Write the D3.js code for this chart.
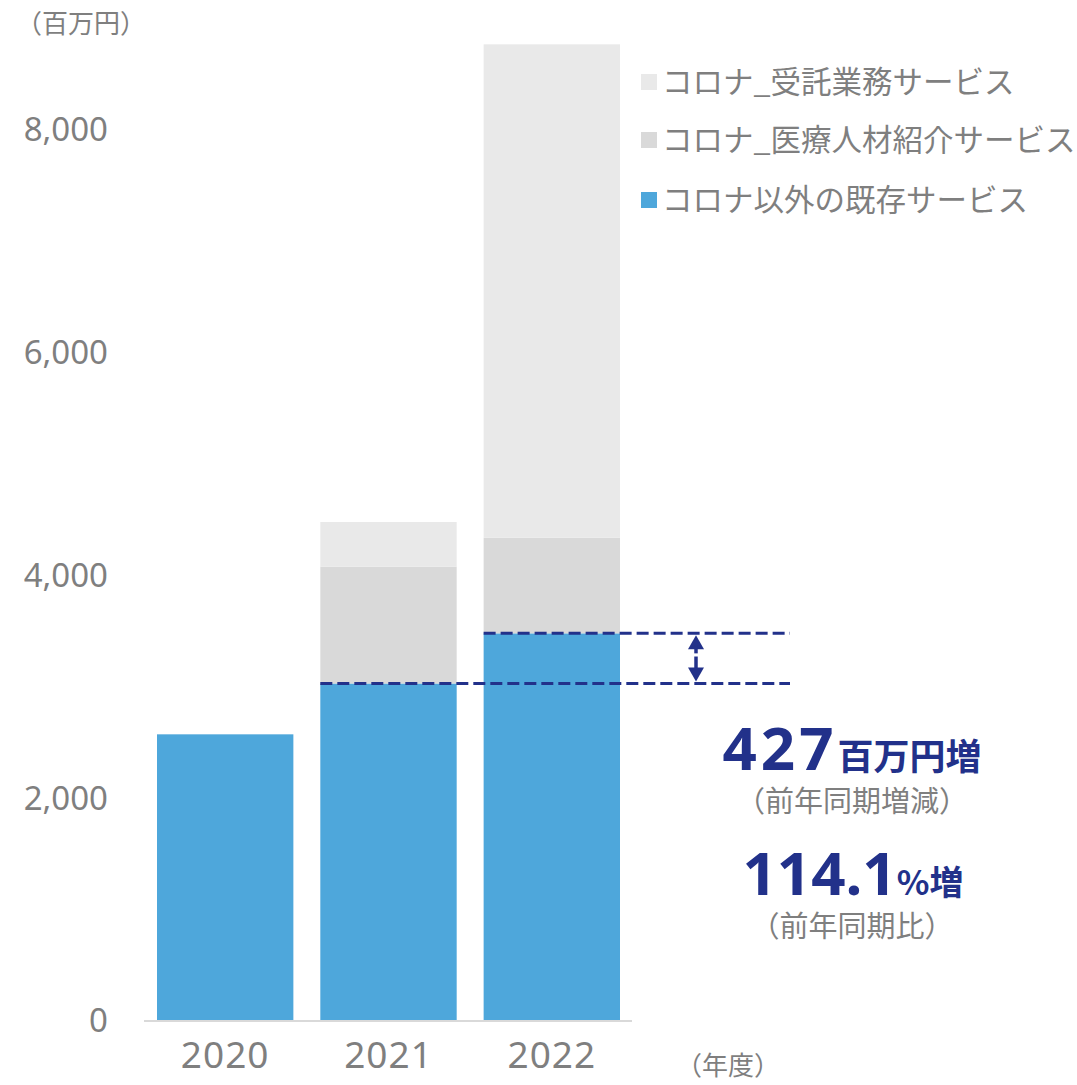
<!DOCTYPE html>
<html lang="ja">
<head>
<meta charset="UTF-8"/>
<title>売上推移</title>
<script src="https://cdn.jsdelivr.net/npm/d3@7"></script>
<style>
body { margin: 0; background: #fff; }
text { font-family: "Noto Sans CJK JP", "Noto Sans", sans-serif; }
.tick-label { fill: #7f7f7f; }
</style>
</head>
<body>
<svg id="chart"></svg>
<script>
var width = 1077, height = 1085;

// data
var years = ["2020", "2021", "2022"];
var existing = [2568, 3024, 3474];     // コロナ以外の既存サービス
var medical = [0, 1048, 858];          // コロナ_医療人材紹介サービス
var commission = [0, 401, 4428];       // コロナ_受託業務サービス
var yTicks = [0, 2000, 4000, 6000, 8000];
var legendLabels = ["コロナ_受託業務サービス", "コロナ_医療人材紹介サービス", "コロナ以外の既存サービス"];
var legendColors = ["#e9e9e9", "#d9d9d9", "#4ea7db"];

var svg = d3.select("#chart")
	.attr("width", width)
	.attr("height", height);

var x = d3.scaleBand()
	.domain(years)
	.range([157, 620])
	.paddingInner(0.165)
	.paddingOuter(0);

var y = d3.scaleLinear()
	.domain([0, 8000])
	.range([1020.5, 129]);

// stack the three series
var rows = years.map(function(yr, i) {
	return {year: yr, existing: existing[i], medical: medical[i], commission: commission[i]};
});
var keys = ["existing", "medical", "commission"];
var colors = {existing: "#4ea7db", medical: "#d9d9d9", commission: "#e9e9e9"};
var stacked = d3.stack().keys(keys)(rows);

svg.append("g")
	.selectAll("g")
	.data(stacked)
	.enter().append("g")
	.attr("fill", function(d) { return colors[d.key]; })
	.selectAll("rect")
	.data(function(d) { return d; })
	.enter().append("rect")
	.attr("x", function(d) { return x(d.data.year); })
	.attr("width", x.bandwidth())
	.attr("y", function(d) { return y(d[1]); })
	.attr("height", function(d) { return y(d[0]) - y(d[1]); });

// baseline
svg.append("line")
	.attr("x1", 144).attr("x2", 632)
	.attr("y1", y(0) + 0.5).attr("y2", y(0) + 0.5)
	.attr("stroke", "#d9d9d9")
	.attr("stroke-width", 2);

// y axis labels
svg.append("g")
	.selectAll("text")
	.data(yTicks)
	.enter().append("text")
	.attr("class", "tick-label")
	.attr("x", 108)
	.attr("y", function(d) { return y(d); })
	.attr("dy", "0.36em")
	.attr("text-anchor", "end")
	.style("font-family", "'Noto Sans', sans-serif")
	.style("font-size", "33px")
	.text(d3.format(","));

// x axis labels
svg.append("g")
	.selectAll("text")
	.data(years)
	.enter().append("text")
	.attr("class", "tick-label")
	.attr("x", function(d) { return x(d) + x.bandwidth() / 2; })
	.attr("y", 1055)
	.attr("dy", "0.36em")
	.attr("text-anchor", "middle")
	.style("font-family", "'Noto Sans', sans-serif")
	.style("font-size", "37px")
	.style("letter-spacing", "1px")
	.text(function(d) { return d; });

svg.append("text")
	.attr("class", "tick-label")
	.attr("x", 16).attr("y", 24).attr("dy", "0.36em")
	.style("font-size", "26px")
	.text("（百万円）");

svg.append("text")
	.attr("class", "tick-label")
	.attr("x", 676).attr("y", 1066).attr("dy", "0.36em")
	.style("font-size", "26px")
	.text("（年度）");

// legend
var legend = svg.append("g")
	.selectAll("g")
	.data(legendLabels)
	.enter().append("g")
	.attr("transform", function(d, i) { return "translate(641," + [82, 140, 200][i] + ")"; });
legend.append("rect")
	.attr("x", 0).attr("y", -8)
	.attr("width", 16).attr("height", 16)
	.attr("fill", function(d, i) { return legendColors[i]; });
legend.append("text")
	.attr("x", 21).attr("dy", "0.36em")
	.attr("fill", "#7f7f7f")
	.style("font-size", "30.5px")
	.text(function(d) { return d; });

// dashed comparison lines
var navy = "#22318a";
var yPrev = y(existing[1]), yCur = y(existing[2]);
svg.append("line")
	.attr("x1", x("2021")).attr("x2", 790)
	.attr("y1", yPrev).attr("y2", yPrev)
	.attr("stroke", navy).attr("stroke-width", 3)
	.attr("stroke-dasharray", "12,5");
svg.append("line")
	.attr("x1", x("2022")).attr("x2", 790)
	.attr("y1", yCur).attr("y2", yCur)
	.attr("stroke", navy).attr("stroke-width", 3)
	.attr("stroke-dasharray", "12,5");

// double arrow between the lines
var ax = 696;
svg.append("path")
	.attr("d", "M" + (ax - 8) + "," + (yCur + 16) + "L" + ax + "," + (yCur + 2) + "L" + (ax + 8) + "," + (yCur + 16) + "Z")
	.attr("fill", navy);
svg.append("line")
	.attr("x1", ax).attr("x2", ax)
	.attr("y1", yCur + 12).attr("y2", yCur + 20)
	.attr("stroke", navy).attr("stroke-width", 3.5);
svg.append("line")
	.attr("x1", ax).attr("x2", ax)
	.attr("y1", yPrev - 27).attr("y2", yPrev - 12)
	.attr("stroke", navy).attr("stroke-width", 3.5);
svg.append("path")
	.attr("d", "M" + (ax - 8) + "," + (yPrev - 16) + "L" + ax + "," + (yPrev - 2) + "L" + (ax + 8) + "," + (yPrev - 16) + "Z")
	.attr("fill", navy);

// annotation texts
var t1 = svg.append("text")
	.attr("x", 852).attr("y", 770)
	.attr("text-anchor", "middle")
	.attr("fill", navy)
	.style("font-weight", "bold");
t1.append("tspan").style("font-size", "60px").style("letter-spacing", "4px").style("font-family", "'Noto Sans', sans-serif").text("427");
t1.append("tspan").style("font-size", "36px").text("百万円増");

svg.append("text")
	.attr("x", 852).attr("y", 802).attr("dy", "0.36em")
	.attr("text-anchor", "middle")
	.attr("fill", "#7f7f7f")
	.style("font-size", "29px")
	.text("（前年同期増減）");

var t2 = svg.append("text")
	.attr("x", 853).attr("y", 895)
	.attr("text-anchor", "middle")
	.attr("fill", navy)
	.style("font-weight", "bold");
t2.append("tspan").style("font-size", "60px").style("font-family", "'Noto Sans', sans-serif").text("114.1");
t2.append("tspan").style("font-size", "34px").text("%増");

svg.append("text")
	.attr("x", 852).attr("y", 927).attr("dy", "0.36em")
	.attr("text-anchor", "middle")
	.attr("fill", "#7f7f7f")
	.style("font-size", "29px")
	.text("（前年同期比）");
</script>
</body>
</html>
